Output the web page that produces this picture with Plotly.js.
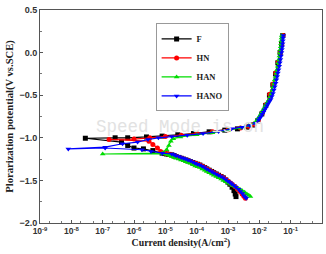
<!DOCTYPE html>
<html><head><meta charset="utf-8">
<script src="https://cdn.plot.ly/plotly-3.0.1.min.js"></script>
<style>html,body{margin:0;padding:0;background:#fff}#c{width:326px;height:254px}</style>
</head><body><div id="c"></div>
<script>
// Current density (A/cm^2) and potential (V vs. SCE)
const F_i = [1.8e-3,1.7e-3,1.55e-3,1.35e-3,1.15e-3,1.0e-3,8.5e-4,7.1e-4,6.0e-4,5.0e-4,4.2e-4,3.5e-4,3.0e-4,2.5e-4,2.1e-4,1.8e-4,1.5e-4,1.26e-4,1.06e-4,8.9e-5,7.5e-5,6.3e-5,5.3e-5,4.5e-5,3.8e-5,3.2e-5,2.7e-5,2.2e-5,1.9e-5,1.6e-5,1.3e-5,1.1e-5,9.4e-6,7.9e-6,
  4.0e-6,2.0e-6,1.0e-6,6.3e-7,4.0e-7,2.8e-8,2.5e-7,6.3e-7,2.5e-6,7.9e-6,2.5e-5,7.9e-5,2.5e-4,7.9e-4,2.0e-3,4.0e-3,6.3e-3,8.9e-3,1.2e-2,1.6e-2,2.1e-2,2.7e-2,3.3e-2,3.9e-2,4.6e-2,5.1e-2,5.6e-2];
const F_E = [-1.69,-1.66,-1.62,-1.58,-1.545,-1.52,-1.495,-1.47,-1.455,-1.44,-1.425,-1.41,-1.395,-1.38,-1.365,-1.35,-1.335,-1.32,-1.31,-1.30,-1.29,-1.28,-1.27,-1.26,-1.25,-1.24,-1.23,-1.22,-1.21,-1.20,-1.195,-1.19,-1.185,-1.18,
  -1.15,-1.13,-1.12,-1.09,-1.05,-1.005,-1.0,-1.0,-0.99,-0.98,-0.965,-0.95,-0.93,-0.91,-0.895,-0.875,-0.85,-0.80,-0.72,-0.62,-0.50,-0.38,-0.25,-0.12,0.0,0.10,0.20];

const HN_i = [3.6e-3,3.2e-3,2.8e-3,2.4e-3,2.0e-3,1.7e-3,1.4e-3,1.2e-3,1.0e-3,8.5e-4,7.1e-4,6.0e-4,5.0e-4,4.2e-4,3.5e-4,3.0e-4,2.5e-4,2.1e-4,1.8e-4,1.5e-4,1.26e-4,1.06e-4,8.9e-5,7.5e-5,6.3e-5,5.3e-5,4.5e-5,3.8e-5,3.2e-5,2.7e-5,2.2e-5,1.8e-5,1.5e-5,1.2e-5,1.0e-5,
  7.1e-6,5.6e-6,4.0e-6,3.0e-6,1.6e-7,1.0e-6,3.2e-6,1.0e-5,3.2e-5,1.0e-4,3.2e-4,1.0e-3,2.5e-3,4.5e-3,6.8e-3,9.3e-3,1.25e-2,1.65e-2,2.15e-2,2.75e-2,3.35e-2,4.0e-2,4.7e-2,5.2e-2,5.7e-2];
const HN_E = [-1.71,-1.685,-1.66,-1.63,-1.60,-1.575,-1.55,-1.53,-1.51,-1.49,-1.47,-1.455,-1.44,-1.425,-1.41,-1.395,-1.38,-1.365,-1.35,-1.335,-1.32,-1.31,-1.30,-1.29,-1.28,-1.27,-1.26,-1.25,-1.24,-1.23,-1.22,-1.21,-1.20,-1.19,-1.18,
  -1.16,-1.12,-1.08,-1.04,-1.02,-1.015,-1.0,-0.985,-0.97,-0.95,-0.93,-0.905,-0.885,-0.865,-0.84,-0.79,-0.71,-0.61,-0.49,-0.37,-0.24,-0.11,0.0,0.10,0.20];

const HAN_i = [5.2e-3,4.6e-3,4.0e-3,3.4e-3,2.8e-3,2.4e-3,2.0e-3,1.7e-3,1.4e-3,1.2e-3,1.0e-3,8.5e-4,7.1e-4,6.0e-4,5.0e-4,4.2e-4,3.5e-4,3.0e-4,2.5e-4,2.1e-4,1.8e-4,1.5e-4,1.26e-4,1.06e-4,8.9e-5,7.5e-5,6.3e-5,5.3e-5,4.5e-5,3.8e-5,3.2e-5,2.7e-5,2.2e-5,1.9e-5,1.6e-5,1.4e-5,1.2e-5,9.0e-6,
  1.0e-7,8.0e-6,1.1e-5,1.3e-5,1.5e-5,1.8e-5,3.0e-5,1.0e-4,3.2e-4,1.0e-3,2.5e-3,4.5e-3,6.8e-3,
  8.5e-3,9.2e-3,1.0e-2,1.1e-2,1.2e-2,1.3e-2,1.42e-2,1.55e-2,1.7e-2,1.87e-2,2.05e-2,2.22e-2,2.4e-2,2.57e-2,2.75e-2,2.93e-2,3.1e-2,3.3e-2,3.5e-2,3.67e-2,3.85e-2,4.02e-2,4.2e-2,4.37e-2,4.55e-2,4.68e-2,4.8e-2,4.9e-2,5.0e-2,5.1e-2,5.2e-2];
const HAN_E = [-1.69,-1.675,-1.66,-1.64,-1.62,-1.605,-1.59,-1.575,-1.56,-1.545,-1.53,-1.515,-1.50,-1.485,-1.47,-1.455,-1.44,-1.425,-1.41,-1.395,-1.38,-1.365,-1.35,-1.34,-1.33,-1.315,-1.30,-1.29,-1.28,-1.27,-1.26,-1.25,-1.24,-1.23,-1.22,-1.21,-1.20,-1.19,
  -1.19,-1.18,-1.14,-1.09,-1.04,-1.01,-0.99,-0.965,-0.94,-0.91,-0.885,-0.86,-0.83,
  -0.79,-0.77,-0.75,-0.725,-0.70,-0.675,-0.65,-0.625,-0.60,-0.575,-0.55,-0.515,-0.48,-0.44,-0.40,-0.36,-0.32,-0.28,-0.24,-0.20,-0.16,-0.12,-0.08,-0.04,0.0,0.035,0.07,0.105,0.14,0.17,0.20];

const HANO_i = [3.8e-3,3.5e-3,3.2e-3,2.9e-3,2.5e-3,2.2e-3,1.8e-3,1.55e-3,1.3e-3,1.15e-3,1.0e-3,8.5e-4,7.1e-4,6.0e-4,5.0e-4,4.2e-4,3.5e-4,3.0e-4,2.5e-4,2.1e-4,1.8e-4,1.5e-4,1.26e-4,1.06e-4,8.9e-5,7.5e-5,6.3e-5,5.3e-5,4.5e-5,3.8e-5,3.2e-5,2.7e-5,2.2e-5,1.9e-5,1.6e-5,
  8.0e-6,3.5e-6,1.8e-6,1.2e-7,8.0e-9,1.2e-7,4.3e-7,1.3e-6,2.8e-6,6.0e-6,1.6e-5,5.0e-5,1.6e-4,5.0e-4,1.3e-3,2.8e-3,5.0e-3,7.5e-3,
  9.5e-3,1.03e-2,1.12e-2,1.23e-2,1.35e-2,1.47e-2,1.6e-2,1.75e-2,1.9e-2,2.1e-2,2.3e-2,2.5e-2,2.7e-2,2.9e-2,3.1e-2,3.3e-2,3.5e-2,3.7e-2,3.9e-2,4.1e-2,4.3e-2,4.5e-2,4.7e-2,4.9e-2,5.1e-2,5.25e-2,5.4e-2,5.5e-2,5.6e-2,5.7e-2,5.8e-2];
const HANO_E = [-1.71,-1.695,-1.68,-1.655,-1.63,-1.605,-1.58,-1.56,-1.54,-1.525,-1.51,-1.49,-1.47,-1.455,-1.44,-1.425,-1.41,-1.395,-1.38,-1.365,-1.35,-1.335,-1.32,-1.31,-1.30,-1.285,-1.27,-1.26,-1.25,-1.24,-1.23,-1.22,-1.21,-1.20,-1.19,
  -1.18,-1.16,-1.14,-1.12,-1.13,-1.11,-1.07,-1.05,-1.02,-1.0,-0.985,-0.97,-0.95,-0.925,-0.895,-0.875,-0.855,-0.83,
  -0.79,-0.77,-0.75,-0.725,-0.70,-0.675,-0.65,-0.625,-0.60,-0.575,-0.55,-0.515,-0.48,-0.44,-0.40,-0.36,-0.32,-0.28,-0.24,-0.20,-0.16,-0.12,-0.08,-0.04,0.0,0.035,0.07,0.105,0.14,0.17,0.20];

const seriesNames = ['F','HN','HAN','HANO'];
const seriesColors = ['#000000','#ff0000','#00dd00','#0000ff'];
const seriesSymbols = ['square','circle','triangle-up','triangle-down'];
const xTickVals = [1e-9,1e-8,1e-7,1e-6,1e-5,1e-4,1e-3,1e-2,1e-1,1];
const xTickText = ['10<sup>-9</sup>','10<sup>-8</sup>','10<sup>-7</sup>','10<sup>-6</sup>','10<sup>-5</sup>','10<sup>-4</sup>','10<sup>-3</sup>','10<sup>-2</sup>','10<sup>-1</sup>','10<sup>0</sup>'];

const xs = [F_i, HN_i, HAN_i, HANO_i];
const ys = [F_E, HN_E, HAN_E, HANO_E];
const traces = seriesNames.map((n,k)=>({
  x: xs[k], y: ys[k], name: n, type:'scatter', mode:'lines+markers',
  line:{color:seriesColors[k], width:1.2},
  marker:{color:seriesColors[k], symbol:seriesSymbols[k], size:5}
}));

const serif = 'Liberation Serif, Times New Roman, serif';
const sans = 'Liberation Sans, Arial, sans-serif';
const layout = {
  width:326, height:254,
  margin:{l:40, r:4, t:10, b:31},
  paper_bgcolor:'#fff', plot_bgcolor:'#fff',
  showlegend:true,
  legend:{x:0.41, y:0.937, xanchor:'left', yanchor:'top', bgcolor:'#fff', bordercolor:'#999', borderwidth:1,
    font:{family:serif, size:8.5, color:'#222', weight:'bold'}, itemwidth:30, tracegroupgap:0},
  xaxis:{type:'log', range:[-9,0], tickvals:xTickVals, ticktext:xTickText,
    ticks:'inside', ticklen:3, tickcolor:'#555', showgrid:false, zeroline:false,
    showline:true, linecolor:'#555', linewidth:1, mirror:true,
    tickfont:{family:sans, size:8.5, color:'#333', weight:'bold'},
    minor:{ticks:'inside', ticklen:2, tickcolor:'#777', showgrid:false},
    title:{text:'Current density(A/cm<sup>2</sup>)', standoff:1, font:{family:serif, size:9.8, color:'#222', weight:'bold'}}},
  yaxis:{range:[-2.0,0.5], dtick:0.5, tickformat:'.1f',
    ticks:'inside', ticklen:3, tickcolor:'#555', showgrid:false, zeroline:false,
    showline:true, linecolor:'#555', linewidth:1, mirror:true,
    tickfont:{family:sans, size:9, color:'#333', weight:'bold'},
    minor:{ticks:'inside', ticklen:2, dtick:0.25, tickcolor:'#777', showgrid:false},
    title:{text:'Plorarization potential(V vs.SCE)', standoff:3, font:{family:serif, size:10.6, color:'#222', weight:'bold'}}},
  annotations:[{text:'Speed Mode is on', xref:'paper', yref:'paper', x:0.496, y:0.45, showarrow:false,
    font:{family:'Liberation Mono, monospace', size:17.5, color:'#e2e2e2'}}]
};
Plotly.newPlot('c', traces, layout, {displayModeBar:false, staticPlot:true});
</script></body></html>
